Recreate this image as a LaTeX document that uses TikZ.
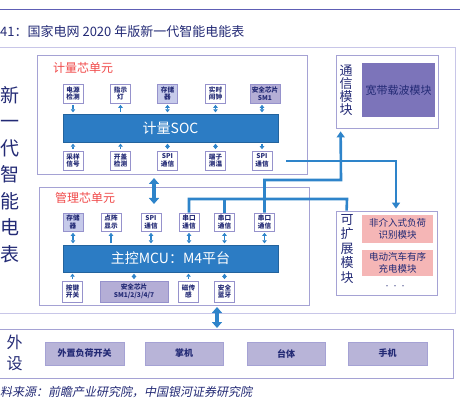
\documentclass[tikz,border=0pt]{standalone}
\usepackage{fontspec}
\setmainfont{Noto Sans CJK SC}
\newfontfamily\cjkit[FakeSlant=0.2]{Noto Sans CJK SC}
\usetikzlibrary{arrows.meta}
\definecolor{navy}{RGB}{35,42,117}
\definecolor{framec}{RGB}{165,162,212}
\definecolor{outerc}{RGB}{200,198,232}
\definecolor{boxc}{RGB}{150,146,204}
\definecolor{barblue}{RGB}{44,124,196}
\definecolor{arrowblue}{RGB}{46,132,202}
\definecolor{lav}{RGB}{198,202,234}
\definecolor{purp}{RGB}{180,174,214}
\definecolor{widec}{RGB}{124,116,186}
\definecolor{pinkc}{RGB}{245,182,182}
\definecolor{redlab}{RGB}{240,72,72}
\definecolor{peric}{RGB}{184,180,216}
\definecolor{topline}{RGB}{94,94,181}
\tikzset{
  sbox/.style={draw=boxc,line width=0.6pt,fill=white,minimum width=20pt,minimum height=19pt,inner sep=0pt,align=center,text=navy,font=\fontsize{6.6}{7.8}\selectfont\bfseries},
  barbox/.style={fill=barblue,draw=barblue!80!black,line width=0.4pt,text=white,inner sep=0pt,font=\fontsize{14}{16}\selectfont},
  unit/.style={draw=framec,line width=0.8pt},
  sa/.style={draw=arrowblue,line width=1.3pt,shorten <=1.5pt,shorten >=1.5pt},
  sboth/.style={sa,{Triangle[width=4.5pt,length=3pt]}-{Triangle[width=4.5pt,length=3pt]}},
  sto/.style={sa,-{Triangle[width=4.5pt,length=3pt]}},
  bigarrow/.style={draw=arrowblue,line width=4pt,{Triangle[width=10pt,length=6pt]}-{Triangle[width=10pt,length=6pt]}},
  conn/.style={draw=arrowblue,line width=2.6pt},
  conntip/.style={conn,-{Triangle[width=8pt,length=6pt]}},
  vtext/.style={text=navy,align=center,inner sep=0pt},
  redl/.style={text=redlab,inner sep=0pt,anchor=west,font=\fontsize{12}{14}\selectfont},
  pbox/.style={fill=peric,draw=framec,line width=0.6pt,text=navy,inner sep=0pt,font=\fontsize{9}{11}\selectfont\bfseries},
  pinkbox/.style={fill=pinkc,draw=none,text=navy,inner sep=0pt,align=center,font=\fontsize{9.5}{12}\selectfont}
}
\begin{document}
\begin{tikzpicture}[x=1pt,y=-1pt]
\useasboundingbox (0,0) rectangle (460,403);
% top rule and title
\draw[topline,line width=1pt] (0,10) -- (460,10);
\node[anchor=west,text=navy,inner sep=0pt,font=\fontsize{13}{15}\selectfont] (title) at (0,32) {41：国家电网 2020 年版新一代智能电能表};
% outer frame
\draw[outerc,line width=1pt] (-3,48) rectangle (455,313);
% side vertical text
\node[vtext,font=\fontsize{19}{26.5}\selectfont] (side) at (10.5,174.5) {新\\一\\代\\智\\能\\电\\表};
% ---------------- metering unit
\draw[unit] (37,55) rectangle (307,174);
\node[redl] (mlab) at (53,68) {计量芯单元};
\node[sbox] (pw1) at (73,93.5) {电源\\检测};
\node[sbox] (ind) at (120.5,93.5) {指示\\灯};
\node[sbox,fill=lav] (mem1) at (167.5,93.5) {存储\\器};
\node[sbox] (rtc) at (215.5,93.5) {实时\\闹钟};
\node[sbox,fill=purp,minimum width=30pt] (sec1) at (265,93.5) {安全芯片\\SM1};
\node[barbox,minimum width=215pt,minimum height=28pt] (soc) at (170.5,128) {计量SOC};
\node[sbox] (smp) at (73,160.5) {采样\\信号};
\node[sbox] (cov) at (120.5,160.5) {开盖\\检测};
\node[sbox] (spi1) at (167.5,160.5) {SPI\\通信};
\node[sbox] (tmp) at (215.5,160.5) {端子\\测温};
\node[sbox] (spi2) at (262,160.5) {SPI\\通信};
\draw[sto] (pw1.south) -- (pw1.south |- soc.north);
\draw[sto] (ind.south |- soc.north) -- (ind.south);
\draw[sboth] (mem1.south) -- (mem1.south |- soc.north);
\draw[sboth] (rtc.south) -- (rtc.south |- soc.north);
\draw[sboth] (spi2.north |- sec1.south) -- (spi2.north |- soc.north);
\draw[sto] (smp.north) -- (smp.north |- soc.south);
\draw[sto] (cov.north) -- (cov.north |- soc.south);
\draw[sboth] (spi1.north) -- (spi1.north |- soc.south);
\draw[sboth] (tmp.north) -- (tmp.north |- soc.south);
\draw[sto] (spi2.north |- soc.south) -- (spi2.north);
% ---------------- management unit
\draw[unit] (39,187) rectangle (309,305);
\node[redl] (glab) at (55,198) {管理芯单元};
\node[sbox,fill=lav,minimum height=18pt] (mem2) at (73,222) {存储\\器};
\node[sbox,minimum height=18pt] (dot) at (111,222) {点阵\\显示};
\node[sbox,minimum height=18pt] (spi3) at (151,222) {SPI\\通信};
\node[sbox,minimum height=18pt] (uart1) at (189,222) {串口\\通信};
\node[sbox,minimum height=18pt] (uart2) at (224.5,222) {串口\\通信};
\node[sbox,minimum height=18pt] (uart3) at (264.5,222) {串口\\通信};
\node[barbox,minimum width=215pt,minimum height=27pt] (mcu) at (170.5,258.5) {主控MCU：M4平台};
\node[sbox,minimum height=21pt] (key) at (72.5,291.5) {按键\\开关};
\node[sbox,fill=purp,minimum width=68pt,minimum height=21pt] (sec2) at (134,291.5) {安全芯片\\SM1/2/3/4/7};
\node[sbox,minimum height=21pt] (mag) at (188.5,291.5) {磁传\\感};
\node[sbox,minimum height=21pt] (bt) at (224.5,291.5) {安全\\蓝牙};
\draw[sboth] (mem2.south) -- (mem2.south |- mcu.north);
\draw[sto] (dot.south |- mcu.north) -- (dot.south);
\draw[sboth] (spi3.south) -- (spi3.south |- mcu.north);
\draw[sboth] (uart1.south) -- (uart1.south |- mcu.north);
\draw[sboth] (uart2.south) -- (uart2.south |- mcu.north);
\draw[sboth] (uart3.south) -- (uart3.south |- mcu.north);
\draw[sto] (key.north) -- (key.north |- mcu.south);
\draw[sboth] (sec2.north) -- (sec2.north |- mcu.south);
\draw[sto] (mag.north) -- (mag.north |- mcu.south);
\draw[sboth] (bt.north) -- (bt.north |- mcu.south);
% ---------------- communication module
\node[unit,minimum width=102pt,minimum height=73pt,inner sep=0pt] (comm) at (387,91.5) {};
\node[vtext,font=\fontsize{13}{13}\selectfont] (commlab) at (346,90.5) {通\\信\\模\\块};
\node[fill=widec,draw=none,minimum width=73pt,minimum height=54pt,inner sep=0pt,text=navy,font=\fontsize{11}{13}\selectfont] (plc) at (398.5,90) {宽带载波模块};
% ---------------- extension module
\node[unit,minimum width=101pt,minimum height=84pt,inner sep=0pt] (ext) at (386.5,253) {};
\node[vtext,font=\fontsize{13}{14.5}\selectfont] (extlab) at (347,249) {可\\扩\\展\\模\\块};
\node[pinkbox,minimum width=71pt,minimum height=28pt] (nilm) at (397.5,229) {非介入式负荷\\识别模块};
\node[pinkbox,minimum width=71pt,minimum height=26pt] (ev) at (397.5,263) {电动汽车有序\\充电模块};
\node[text=navy,inner sep=0pt,font=\fontsize{6}{7}\selectfont] (dots) at (395,287) {•\,\,•\,\,•};
% ---------------- peripherals
\draw[unit] (-3,329) rectangle (453,378);
\node[vtext,font=\fontsize{16}{21}\selectfont] (perlab) at (14.5,352.5) {外\\设};
\node[pbox,minimum width=79pt,minimum height=23pt] (p1) at (84.5,353.5) {外置负荷开关};
\node[pbox,minimum width=78pt,minimum height=23pt] (p2) at (184,353.5) {掌机};
\node[pbox,minimum width=78pt,minimum height=23pt] (p3) at (286,353.5) {台体};
\node[pbox,minimum width=79pt,minimum height=23pt] (p4) at (387.5,353.5) {手机};
% ---------------- big arrows
\coordinate (b1s) at (154,178);
\coordinate (b1e) at (154,204);
\draw[bigarrow] (b1s) -- (b1e);
\coordinate (b2s) at (217,307);
\coordinate (b2e) at (217,328);
\draw[bigarrow] (b2s) -- (b2e);
% ---------------- connectors
\coordinate (aS) at (286,161);
\draw[conntip,shorten >=2pt] (aS) -| ([xshift=9.5pt]ext.north);
\draw[conntip,shorten >=3pt] (uart3.north) |- (341,180) -- ([xshift=5pt]comm.south west);
\draw[conn] (uart1.north) |- (347,199) -- ([xshift=11pt]ext.north west);
\draw[conn] (uart2.north) -- (uart2.north |- 0,199);
% source
\node[anchor=west,text=navy,inner sep=0pt,font=\cjkit\fontsize{12}{14}\selectfont] (src) at (0,392) {料来源：前瞻产业研究院，中国银河证券研究院};
\end{tikzpicture}
\end{document}
